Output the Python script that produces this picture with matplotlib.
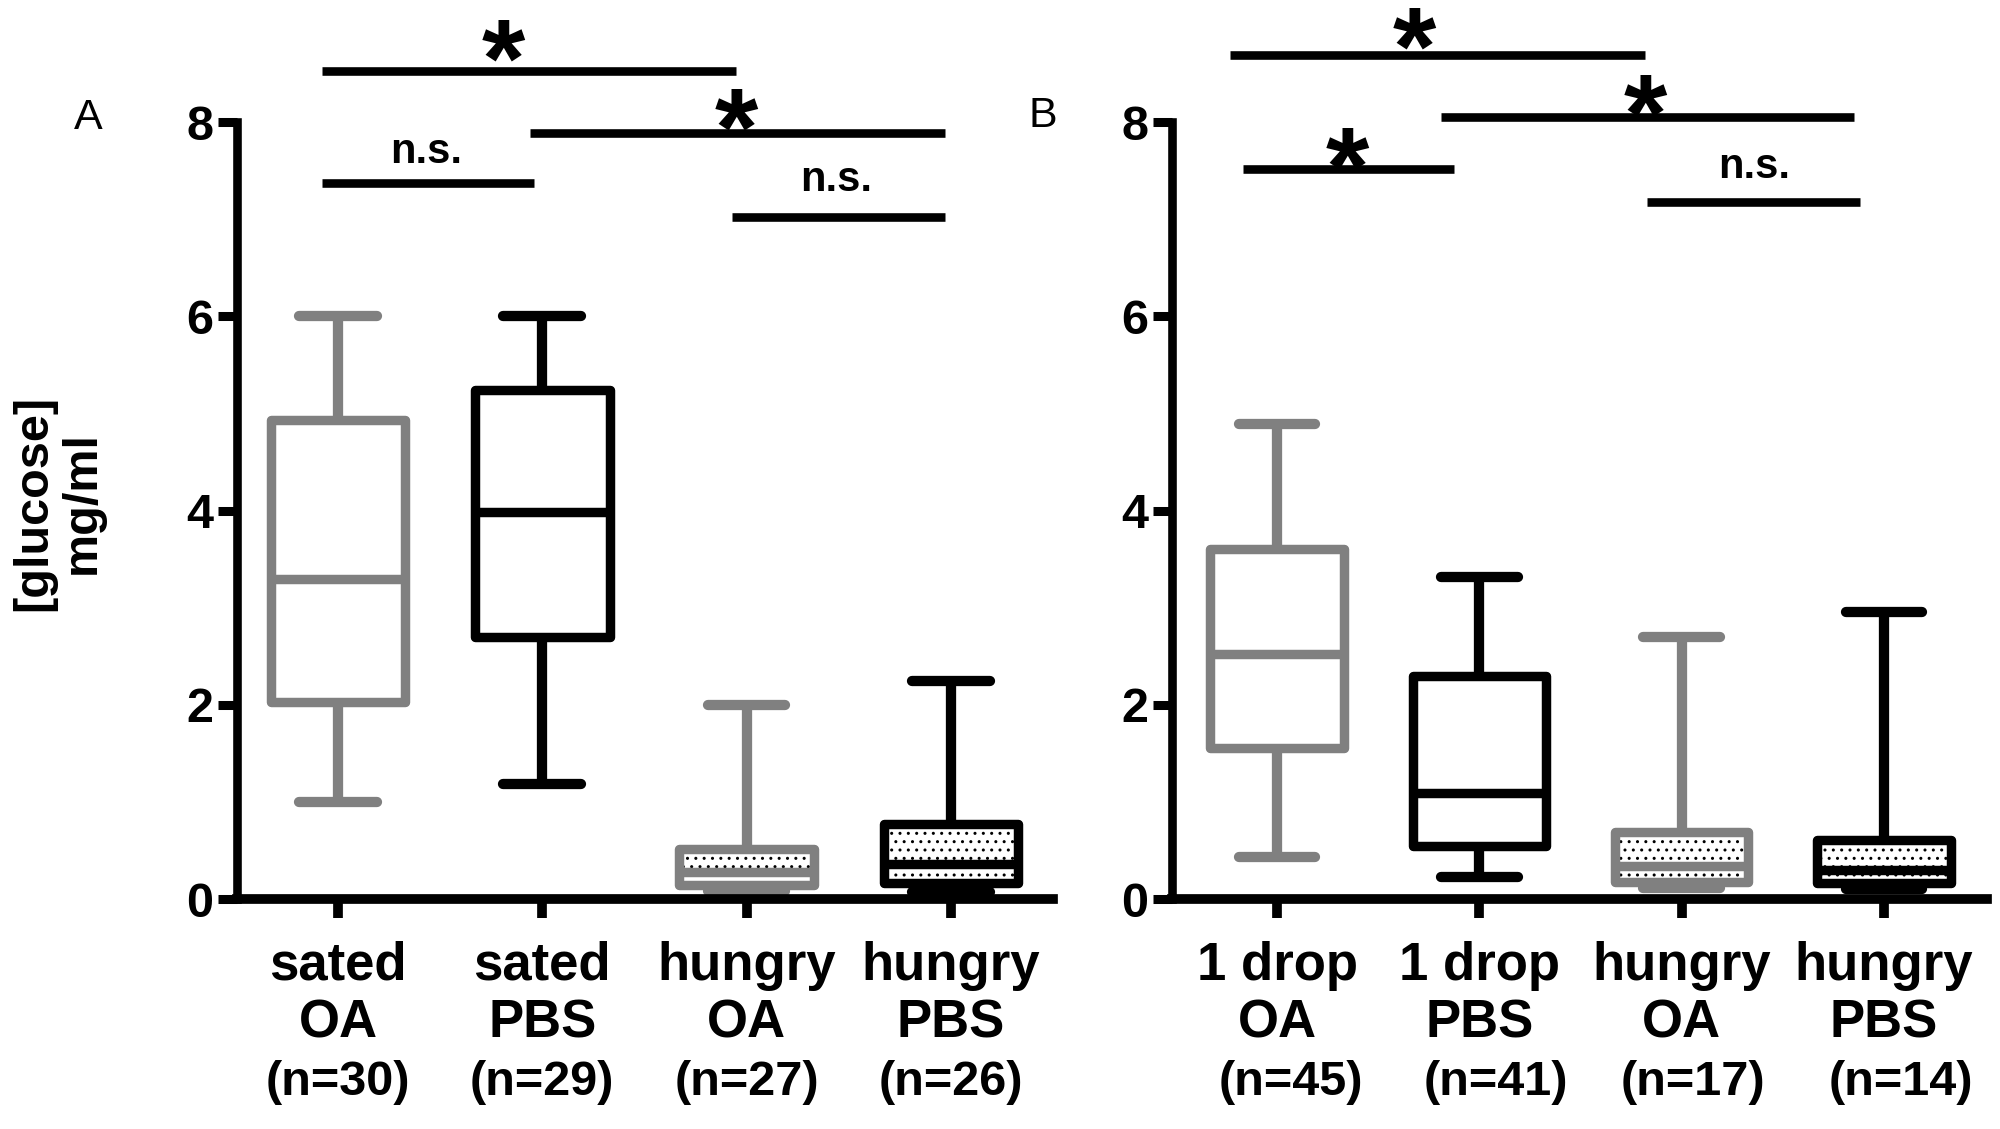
import matplotlib
matplotlib.use("Agg")
import matplotlib.pyplot as plt
from matplotlib.patches import Rectangle
from matplotlib.textpath import TextPath
from matplotlib.font_manager import FontProperties
from matplotlib.transforms import offset_copy, blended_transform_factory

plt.rcParams['font.family'] = ['Liberation Sans', 'DejaVu Sans']
plt.rcParams['hatch.linewidth'] = 1.0

# ---------------- data ----------------
cats_A = ["sated\nOA", "sated\nPBS", "hungry\nOA", "hungry\nPBS"]
n_A = [30, 29, 27, 26]
lo_A = [1.00, 1.18, 0.08, 0.07]
q1_A = [2.03, 2.70, 0.14, 0.17]
med_A = [3.30, 3.98, 0.28, 0.36]
q3_A = [4.93, 5.24, 0.52, 0.77]
hi_A = [6.00, 6.00, 2.00, 2.24]

cats_B = ["1 drop\nOA", "1 drop\nPBS", "hungry\nOA", "hungry\nPBS"]
n_B = [45, 41, 17, 14]
lo_B = [0.43, 0.23, 0.11, 0.10]
q1_B = [1.56, 0.55, 0.18, 0.17]
med_B = [2.52, 1.09, 0.34, 0.30]
q3_B = [3.60, 2.30, 0.69, 0.61]
hi_B = [4.89, 3.32, 2.70, 2.96]

yticks = [0, 2, 4, 6, 8]

# significance brackets: (x start, x end, y, label)
brk_A = [(0.92, 2.95, 8.53, "*"), (1.94, 3.97, 7.89, "*"),
         (0.92, 1.96, 7.37, "n.s."), (2.93, 3.97, 7.02, "n.s.")]
brk_B = [(0.77, 2.82, 8.69, "*"), (1.81, 3.85, 8.05, "*"),
         (0.83, 1.875, 7.52, "*"), (2.83, 3.88, 7.18, "n.s.")]
# label anchor (x, y): star -> ink centre, n.s. -> baseline
lab_A = [(1.81, 8.84), (2.95, 8.13), (1.43, 7.58), (3.44, 7.29)]
lab_B = [(1.68, 8.96), (2.82, 8.27), (1.35, 7.73), (3.36, 7.42)]
ndx_A = [0.0, 0.0, 0.0, 0.0]
ndx_B = [0.07, 0.08, 0.055, 0.085]

GREY = '#808080'
colors = [GREY, 'black', GREY, 'black']
hatched = [False, False, True, True]
LW = 6.8

fig = plt.figure(figsize=(20, 11.29), dpi=100)
axA = fig.add_axes([0.1185, 0.2037, 0.408, 0.6882])
axB = fig.add_axes([0.586, 0.2037, 0.4075, 0.6882])

STAR_FS = 80
fp_star = FontProperties(family='Liberation Sans', weight='bold', size=STAR_FS)
ext = TextPath((0, 0), '*', prop=fp_star).get_extents()
star_center = (ext.y0 + ext.y1) / 2.0


def draw(ax, cats, ns, lo, q1, med, q3, hi, xlim, brackets, labs, ndx):
    pos = [1, 2, 3, 4]
    stats = [dict(whislo=a, q1=b, med=c, q3=d, whishi=e, fliers=[], label=l)
             for a, b, c, d, e, l in zip(lo, q1, med, q3, hi, cats)]
    w = 0.66
    bp = ax.bxp(stats, positions=pos, widths=w, capwidths=0.38,
                patch_artist=True, showfliers=False, manage_ticks=False)
    for i, col in enumerate(colors):
        box = bp['boxes'][i]
        box.set(facecolor='none' if hatched[i] else 'white', edgecolor=col,
                linewidth=LW, joinstyle='round', zorder=3, clip_on=False)
        if hatched[i]:
            r = Rectangle((pos[i] - w / 2, q1[i]), w, q3[i] - q1[i],
                          facecolor='white', edgecolor='black', lw=0,
                          hatch='..', zorder=1, clip_on=False)
            ax.add_patch(r)
        med_line = bp['medians'][i]
        med_line.set(color=col, linewidth=LW, solid_capstyle='butt',
                     zorder=4, clip_on=False)
        for wl in bp['whiskers'][2 * i:2 * i + 2]:
            wl.set(color=col, linewidth=LW + 0.6, solid_capstyle='butt',
                   zorder=2, clip_on=False)
        for cp in bp['caps'][2 * i:2 * i + 2]:
            cp.set(color=col, linewidth=LW + 0.6, solid_capstyle='round',
                   zorder=2, clip_on=False)

    ax.set_xlim(*xlim)
    ax.set_ylim(0, 8)
    ax.set_yticks(yticks)
    ax.set_yticklabels([str(t) for t in yticks], fontsize=35, fontweight='bold')
    ax.set_xticks(pos)
    ax.set_xticklabels(cats, fontsize=38, fontweight='bold', linespacing=1.2)
    ax.tick_params(axis='y', length=14, width=6.5, pad=3, direction='out')
    ax.tick_params(axis='x', length=14, width=7, pad=16, direction='out')
    for s in ['top', 'right']:
        ax.spines[s].set_visible(False)
    ax.spines['left'].set_linewidth(6.2)
    ax.spines['left'].set_bounds(0, 8)
    ax.spines['bottom'].set_linewidth(7)
    for s in ['left', 'bottom']:
        ax.spines[s].set_capstyle('projecting')

    trans = blended_transform_factory(ax.transData, fig.transFigure)
    for p, n, dx in zip(pos, ns, ndx):
        ax.text(p + dx, 1 - 1095 / 1129, f"(n={n})", ha='center', va='baseline',
                fontsize=35, fontweight='bold', transform=trans)

    star_tr = offset_copy(ax.transData, fig=fig, y=-star_center, units='points')
    for (x1, x2, y, lab), (lx, ly) in zip(brackets, labs):
        ax.plot([x1, x2], [y, y], color='black', lw=6.2, solid_capstyle='butt',
                clip_on=False)
        if lab == '*':
            ax.text(lx, ly, lab, ha='center', va='baseline', fontsize=STAR_FS,
                    fontweight='bold', transform=star_tr, clip_on=False)
        else:
            ax.text(lx, ly, lab, ha='center', va='baseline', fontsize=30,
                    fontweight='bold', clip_on=False)


draw(axA, cats_A, n_A, lo_A, q1_A, med_A, q3_A, hi_A, (0.506, 4.499),
     brk_A, lab_A, ndx_A)
draw(axB, cats_B, n_B, lo_B, q1_B, med_B, q3_B, hi_B, (0.481, 4.509),
     brk_B, lab_B, ndx_B)

fig.text(88 / 2000, 1 - 129 / 1129, 'A', ha='center', va='baseline', fontsize=31)
fig.text(1043 / 2000, 1 - 127 / 1129, 'B', ha='center', va='baseline', fontsize=31)
fig.text(58 / 2000, 1 - 503 / 1129, '[glucose]\nmg/ml', rotation=90,
         ha='center', va='center', fontsize=35, fontweight='bold',
         linespacing=1.1, multialignment='center')

fig.savefig('out.png', dpi=100, facecolor='white')
